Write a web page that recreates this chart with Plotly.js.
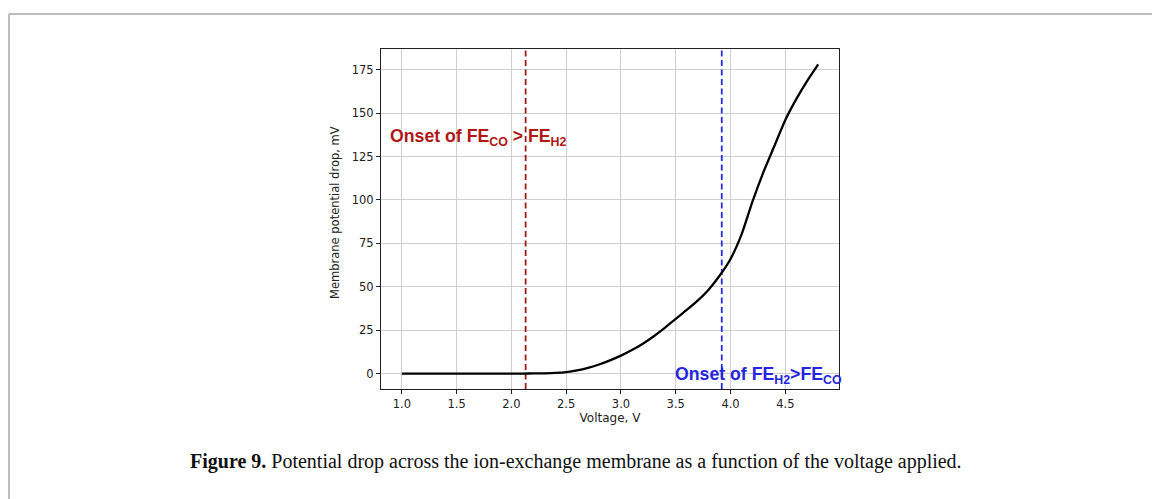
<!DOCTYPE html>
<html>
<head>
<meta charset="utf-8">
<script src="https://cdn.plot.ly/plotly-3.0.1.min.js"></script>
<style>
html,body{margin:0;padding:0;background:#fff;}
#chart{width:1152px;height:499px;}
</style>
</head>
<body>
<div id="chart"></div>
<script>
// Data
const voltage = [1.0,1.1,1.2,1.3,1.4,1.5,1.6,1.7,1.8,1.9,2.0,2.1,2.2,2.3,2.4,2.5,2.6,2.7,2.8,2.9,3.0,3.1,3.2,3.3,3.4,3.5,3.6,3.7,3.8,3.9,4.0,4.1,4.2,4.3,4.4,4.5,4.6,4.7,4.8];
const potentialDrop = [0,0,0,0,0,0,0,0,0,0,0,0,0.05,0.15,0.35,0.8,1.8,3.3,5.2,7.6,10.3,13.5,17.2,21.5,26.3,31.5,36.6,42.0,48.3,56.3,66.0,80.0,99.0,116.0,131.0,146.0,158.0,168.5,178.0];
const onsetCO = 2.13;   // Onset of FE_CO > FE_H2
const onsetH2 = 3.92;   // Onset of FE_H2 > FE_CO
const xTicks = [1.0,1.5,2.0,2.5,3.0,3.5,4.0,4.5];
const xTickLabels = ["1.0","1.5","2.0","2.5","3.0","3.5","4.0","4.5"];
const yTicks = [0,25,50,75,100,125,150,175];
const yTickLabels = ["0","25","50","75","100","125","150","175"];
const yRange = [-8.9, 186.9];
const xRange = [0.81, 4.99];

const L = 381, R = 839, T = 49, B = 389, W = 1152, H = 499;
const px = x => (x - L) / (R - L);
const py = y => (B - y) / (B - T);

const traces = [
  {x:[onsetCO,onsetCO], y:yRange, mode:'lines', line:{color:'#9c1c1c', width:1.8, dash:'6px,3.5px'}, hoverinfo:'skip', showlegend:false},
  {x:[onsetH2,onsetH2], y:yRange, mode:'lines', line:{color:'#2a2ae0', width:1.8, dash:'6px,3.5px'}, hoverinfo:'skip', showlegend:false},
  {x:voltage, y:potentialDrop, mode:'lines', line:{color:'#000', width:2.3, shape:'spline', smoothing:0.6}, showlegend:false}
];

const tickFont = {family:'DejaVu Sans', size:11.5, color:'#222'};
const layout = {
  width:W, height:H,
  margin:{l:L, r:W-R, t:T, b:H-B, pad:0},
  paper_bgcolor:'#fff', plot_bgcolor:'#fff',
  showlegend:false,
  xaxis:{range:xRange, tickvals:xTicks, ticktext:xTickLabels, showgrid:true, gridcolor:'#cfcfcf', gridwidth:1,
    zeroline:false, showline:true, mirror:true, linecolor:'#222', linewidth:1,
    ticks:'outside', ticklen:4, tickcolor:'#222', tickfont:tickFont,
    title:{text:'Voltage, V', font:{family:'DejaVu Sans', size:12, color:'#222'}, standoff:3}},
  yaxis:{range:yRange, tickvals:yTicks, ticktext:yTickLabels, showgrid:true, gridcolor:'#cfcfcf', gridwidth:1,
    zeroline:false, showline:true, mirror:true, linecolor:'#222', linewidth:1,
    ticks:'outside', ticklen:4, tickcolor:'#222', tickfont:tickFont},
  annotations:[
    {xref:'paper', yref:'paper', x:px(335), y:py(213), xanchor:'center', yanchor:'middle', showarrow:false, textangle:-90,
     text:'Membrane potential drop, mV', font:{family:'DejaVu Sans', size:11.5, color:'#222'}},
    {xref:'x', yref:'y', x:0.875, y:136, xanchor:'left', yanchor:'middle', showarrow:false,
     text:'<b>Onset of FE<sub>CO</sub> &gt; FE<sub>H2</sub></b>', font:{family:'Liberation Sans', size:17.7, color:'#b01818'}},
    {xref:'x', yref:'y', x:3.475, y:-1, xanchor:'left', yanchor:'middle', showarrow:false,
     text:'<b>Onset of FE<sub>H2</sub>&gt;FE<sub>CO</sub></b>', font:{family:'Liberation Sans', size:17.7, color:'#2525dd'}},
    {xref:'paper', yref:'paper', x:px(576), y:py(462), xanchor:'center', yanchor:'middle', showarrow:false,
     text:'<b>Figure 9.</b> Potential drop across the ion-exchange membrane as a function of the voltage applied.',
     font:{family:'Liberation Serif', size:20, color:'#111'}}
  ],
  shapes:[
    {type:'line', xref:'paper', yref:'paper', x0:px(9), x1:px(1152), y0:py(14), y1:py(14), line:{color:'#bdbdbd', width:2}},
    {type:'line', xref:'paper', yref:'paper', x0:px(9), x1:px(9), y0:py(14), y1:py(499), line:{color:'#bdbdbd', width:2}}
  ]
};

Plotly.newPlot('chart', traces, layout, {staticPlot:true, displayModeBar:false});
</script>
</body>
</html>
